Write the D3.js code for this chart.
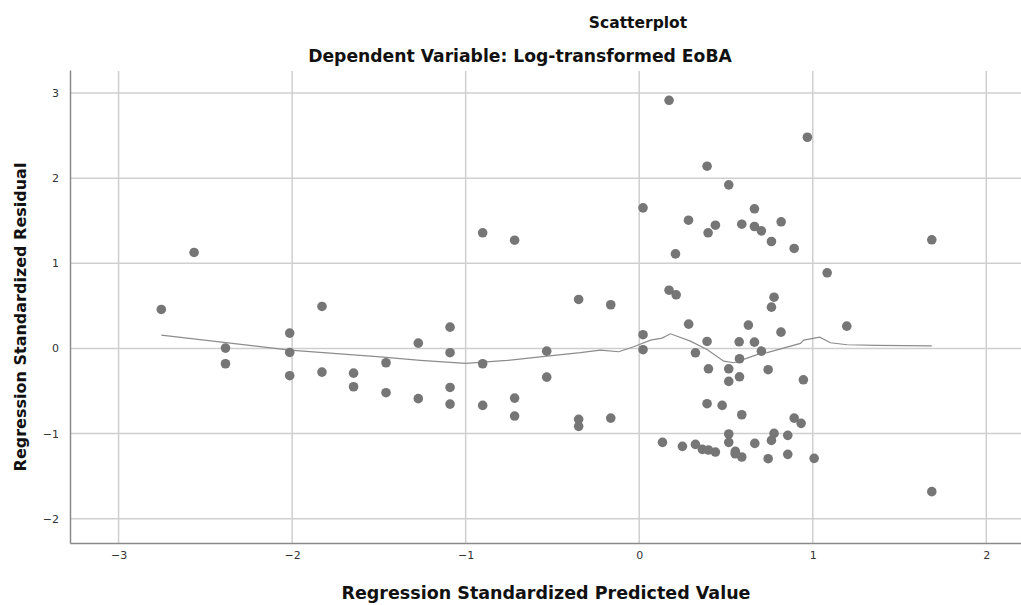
<!DOCTYPE html>
<html>
<head>
<meta charset="utf-8">
<script src="https://cdn.jsdelivr.net/npm/d3@7"></script>
<style>
  body { margin: 0; background: #fff; }
  text { font-family: "DejaVu Sans", sans-serif; }
</style>
</head>
<body>
<div id="chart"></div>
<script>
var width = 1021;
var height = 605;

// standardized predicted values (x) and residuals (y)
var predicted = [-2.754, -2.565, -2.384, -2.384, -2.014, -2.014, -2.014, -1.828, -1.828, -1.646,
  -1.646, -1.459, -1.459, -1.273, -1.273, -1.090, -1.090, -1.090, -1.090, -0.902,
  -0.902, -0.902, -0.718, -0.718, -0.718, -0.533, -0.533, -0.349, -0.349, -0.349,
  -0.164, -0.164, 0.022, 0.022, 0.022, 0.172, 0.391, 0.516, 0.284, 0.439,
  0.397, 0.664, 0.591, 0.664, 0.704, 0.818, 0.762, 0.893, 0.209, 0.172,
  0.213, 0.285, 0.391, 0.324, 0.576, 0.629, 0.664, 0.704, 0.762, 0.777,
  0.817, 0.399, 0.516, 0.578, 0.516, 0.578, 0.743, 0.946, 0.391, 0.478,
  0.591, 0.893, 0.933, 0.516, 0.777, 0.856, 0.134, 0.249, 0.324, 0.364,
  0.399, 0.439, 0.516, 0.554, 0.553, 0.591, 0.666, 0.762, 0.743, 0.856,
  1.008, 0.969, 1.686, 1.083, 1.196, 1.686];
var residual = [0.458, 1.127, 0.004, -0.180, 0.180, -0.047, -0.320, 0.493, -0.278, -0.290,
  -0.450, -0.168, -0.520, 0.062, -0.590, 0.250, -0.050, -0.458, -0.654, 1.358,
  -0.180, -0.669, 1.271, -0.583, -0.794, -0.032, -0.337, 0.575, -0.833, -0.915,
  0.513, -0.818, 1.651, 0.161, -0.015, 2.914, 2.140, 1.921, 1.506, 1.447,
  1.358, 1.640, 1.459, 1.432, 1.381, 1.487, 1.256, 1.174, 1.111, 0.684,
  0.630, 0.285, 0.082, -0.051, 0.078, 0.274, 0.074, -0.032, 0.485, 0.602,
  0.191, -0.239, -0.239, -0.121, -0.387, -0.333, -0.250, -0.368, -0.649, -0.669,
  -0.779, -0.818, -0.880, -1.005, -0.998, -1.021, -1.103, -1.150, -1.127, -1.185,
  -1.193, -1.217, -1.103, -1.209, -1.237, -1.275, -1.115, -1.080, -1.295, -1.244,
  -1.291, 2.480, 1.276, 0.888, 0.262, -1.682];

// loess fit line
var fitX = [-2.754, -2.014, -1.492, -1.261, -1.000, -0.761, -0.531, -0.339, -0.224, -0.118,
  -0.032, 0.065, 0.132, 0.180, 0.295, 0.391, 0.487, 0.545, 0.622, 0.699,
  0.737, 0.929, 0.948, 1.040, 1.102, 1.198, 1.371, 1.686];
var fitY = [0.157, -0.020, -0.100, -0.141, -0.176, -0.141, -0.090, -0.050, -0.020, -0.039,
  0.020, 0.097, 0.121, 0.172, 0.086, -0.012, -0.149, -0.168, -0.114, -0.059,
  -0.050, 0.059, 0.097, 0.133, 0.067, 0.043, 0.035, 0.031];

var xTicks = [-3, -2, -1, 0, 1, 2];
var yTicks = [-2, -1, 0, 1, 2, 3];

var plotLeft = 70, plotRight = 1021, plotTop = 71, plotBottom = 543;

var x = d3.scaleLinear().domain([-3.28, 2.2]).range([plotLeft, plotRight]);
var y = d3.scaleLinear().domain([-2.285, 3.27]).range([plotBottom, plotTop - 1]);

var svg = d3.select("#chart")
    .append("svg")
    .attr("width", width)
    .attr("height", height);

// gridlines
svg.append("g")
    .selectAll("line")
    .data(xTicks)
    .enter()
        .append("line")
        .attr("x1", function(d){ return x(d); })
        .attr("x2", function(d){ return x(d); })
        .attr("y1", plotTop)
        .attr("y2", plotBottom)
        .attr("stroke", "#cfcfcf")
        .attr("stroke-width", 1.5);

svg.append("g")
    .selectAll("line")
    .data(yTicks)
    .enter()
        .append("line")
        .attr("x1", plotLeft)
        .attr("x2", plotRight)
        .attr("y1", function(d){ return y(d); })
        .attr("y2", function(d){ return y(d); })
        .attr("stroke", "#cfcfcf")
        .attr("stroke-width", 1.5);

// axes
var fmt = function(d){ return d < 0 ? "\u2212" + Math.abs(d) : String(d); };

var xAxis = svg.append("g")
    .attr("transform", "translate(0," + plotBottom + ")")
    .call(d3.axisBottom(x).tickValues(xTicks).tickFormat(fmt).tickSize(0).tickPadding(8));
var yAxis = svg.append("g")
    .attr("transform", "translate(" + plotLeft + ",0)")
    .call(d3.axisLeft(y).tickValues(yTicks).tickFormat(fmt).tickSize(0).tickPadding(11));

[xAxis, yAxis].forEach(function(a){
    a.select(".domain").attr("stroke", "#8a8a8a").attr("stroke-width", 1.5);
    a.selectAll("text")
        .attr("font-family", "DejaVu Sans Condensed, DejaVu Sans, sans-serif")
        .attr("font-size", 11)
        .attr("fill", "#333");
});

// fit line
var line = d3.line()
    .x(function(d){ return x(d[0]); })
    .y(function(d){ return y(d[1]); });

svg.append("path")
    .datum(d3.zip(fitX, fitY))
    .attr("d", line)
    .attr("fill", "none")
    .attr("stroke", "#8c8c8c")
    .attr("stroke-width", 1.2);

// points
svg.append("g")
    .selectAll("circle")
    .data(d3.zip(predicted, residual))
    .enter()
        .append("circle")
        .attr("cx", function(d){ return x(d[0]); })
        .attr("cy", function(d){ return y(d[1]); })
        .attr("r", 4.8)
        .attr("fill", "#767676");

// titles
svg.append("text")
    .attr("x", 638).attr("y", 28)
    .attr("text-anchor", "middle")
    .attr("font-size", 15.5).attr("font-weight", "bold")
    .attr("fill", "#111")
    .text("Scatterplot");

svg.append("text")
    .attr("x", 520).attr("y", 62)
    .attr("text-anchor", "middle")
    .attr("font-size", 17.2).attr("font-weight", "bold")
    .attr("fill", "#111")
    .text("Dependent Variable: Log-transformed EoBA");

svg.append("text")
    .attr("x", 546).attr("y", 599)
    .attr("text-anchor", "middle")
    .attr("font-size", 17.5).attr("font-weight", "bold")
    .attr("fill", "#111")
    .text("Regression Standardized Predicted Value");

svg.append("text")
    .attr("transform", "translate(26,317) rotate(-90)")
    .attr("text-anchor", "middle")
    .attr("font-size", 16).attr("font-weight", "bold")
    .attr("fill", "#111")
    .text("Regression Standardized Residual");
</script>
</body>
</html>
